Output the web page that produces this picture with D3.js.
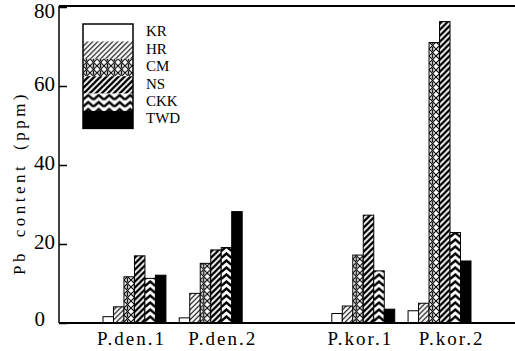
<!DOCTYPE html>
<html><head><meta charset="utf-8">
<script src="https://cdn.jsdelivr.net/npm/d3@7"></script>
<style>
html,body{margin:0;padding:0;background:#fff;}
svg text{font-family:"Liberation Serif","Times New Roman","DejaVu Serif",serif;fill:#000;}
</style></head>
<body>
<svg id="c" width="515" height="351"></svg>
<script>
const categories = ["P.den.1","P.den.2","P.kor.1","P.kor.2"];
const series = ["KR","HR","CM","NS","CKK","TWD"];
const KR  = [1.6, 1.3, 2.4, 3.1];
const HR  = [4.1, 7.5, 4.3, 5.0];
const CM  = [11.7, 15.1, 17.2, 71.0];
const NS  = [17.0, 18.5, 27.3, 76.3];
const CKK = [11.3, 19.1, 13.2, 22.9];
const TWD = [12.1, 28.2, 3.5, 15.7];
const yTicks = [0, 20, 40, 60, 80];
const values = {KR, HR, CM, NS, CKK, TWD};

const svg = d3.select("#c").attr("font-family", "Liberation Serif, serif");
const W = 515, H = 351;
const mLeft = 59, mTop = 7, mBottom = 323;

const y = d3.scaleLinear().domain([0, 80]).range([mBottom, mTop]);
// spacer slot between the two species
const slots = ["P.den.1","P.den.2","_gap","P.kor.1","P.kor.2"];
const x0 = d3.scaleBand().domain(slots).range([103, 471]).paddingInner(0.175).paddingOuter(0);
const x1 = d3.scaleBand().domain(series).range([0, x0.bandwidth()]).padding(0);
const bw = x1.bandwidth();

// patterns
const defs = svg.append("defs");
function pat(id, w, h, build){
  const p = defs.append("pattern").attr("id", id).attr("patternUnits","userSpaceOnUse")
    .attr("width", w).attr("height", h);
  p.append("rect").attr("width", w).attr("height", h).attr("fill", "#fff");
  build(p);
}
pat("pHR", 5, 5, p => {
  p.append("path").attr("d","M-1,6 L6,-1 M-1,1 L1,-1 M4,6 L6,4").attr("stroke","#000").attr("stroke-width",1.1);
});
pat("pCM", 7, 7, p => {
  p.append("path").attr("d","M0,0 L7,7 M7,0 L0,7").attr("stroke","#000").attr("stroke-width",1.1);
  p.append("circle").attr("cx",3.5).attr("cy",1).attr("r",0.9).attr("fill","#000");
  p.append("circle").attr("cx",3.5).attr("cy",6).attr("r",0.9).attr("fill","#000");
});
pat("pNS", 6, 6, p => {
  p.append("path").attr("d","M-1.5,7.5 L7.5,-1.5 M-1.5,1.5 L1.5,-1.5 M4.5,7.5 L7.5,4.5").attr("stroke","#000").attr("stroke-width",2.3);
});
pat("pCKK", bw, 7, p => {
  p.append("path").attr("d",`M0,6 L${bw/2},1.5 L${bw},6`).attr("stroke","#000").attr("stroke-width",2.4).attr("fill","none");
});
const fills = {KR:"#fff", HR:"url(#pHR)", CM:"url(#pCM)", NS:"url(#pNS)", CKK:"url(#pCKK)", TWD:"#000"};

// bars
categories.forEach((cat, ci) => {
  series.forEach(s => {
    const v = values[s][ci];
    const g = svg.append("g").attr("transform", `translate(${x0(cat) + x1(s)},0)`);
    g.append("rect").attr("x", 0).attr("y", y(v)).attr("width", bw).attr("height", y(0) - y(v))
      .attr("fill", fills[s]).attr("stroke", "#000").attr("stroke-width", 1);
  });
});

// frame: left axis, top line, baseline
svg.append("line").attr("x1", mLeft).attr("x2", mLeft).attr("y1", mTop - 1).attr("y2", mBottom).attr("stroke","#000").attr("stroke-width",1.5);
svg.append("line").attr("x1", mLeft).attr("x2", W).attr("y1", mTop - 1).attr("y2", mTop - 1).attr("stroke","#000").attr("stroke-width",1.8);
svg.append("line").attr("x1", mLeft).attr("x2", W).attr("y1", mBottom).attr("y2", mBottom).attr("stroke","#000").attr("stroke-width",1.8);

// y axis ticks (inward)
const yAxis = d3.axisRight(y).tickValues(yTicks).tickSize(8).tickFormat("");
const ya = svg.append("g").attr("transform", `translate(${mLeft},0)`).call(yAxis);
ya.select(".domain").remove();
ya.selectAll(".tick line").attr("stroke","#000").attr("stroke-width",1.5);
svg.append("g").selectAll("text").data(yTicks).join("text")
  .attr("x", d => d === 0 ? 45 : 55)
  .attr("y", d => y(d) + (d === 0 ? -2 : d === 80 ? 6 : 0))
  .attr("text-anchor","end").attr("dominant-baseline","middle")
  .style("font-size","21px").text(d => d);

// x labels
svg.append("g").selectAll("text").data(categories).join("text")
  .attr("x", (d, i) => x0(d) + x0.bandwidth()/2 + (i % 2 === 0 ? -3 : 12))
  .attr("y", 345).attr("text-anchor","middle")
  .style("font-size","19px").style("letter-spacing","2px").text(d => d);

// y title
svg.append("text").attr("transform","translate(21,183) rotate(-90)")
  .attr("text-anchor","middle").attr("dominant-baseline","middle")
  .style("font-size","17px").style("letter-spacing","3.5px").style("word-spacing","5px")
  .text("Pb content (ppm)");

// legend
const lx = 83, ly = 24, rh = 17.4, lw = 50;
series.forEach((s, i) => {
  const g = svg.append("g").attr("transform", `translate(${lx},${ly + i * rh})`);
  g.append("rect").attr("width", lw).attr("height", rh).attr("fill", fills[s]);
  svg.append("text").attr("x", 146).attr("y", ly + 9 + i * rh)
    .attr("dominant-baseline","middle").style("font-size","15px").text(s);
});
svg.append("rect").attr("x", lx).attr("y", ly).attr("width", lw).attr("height", rh * series.length)
  .attr("fill","none").attr("stroke","#000").attr("stroke-width",1.5);
</script>
</body></html>
